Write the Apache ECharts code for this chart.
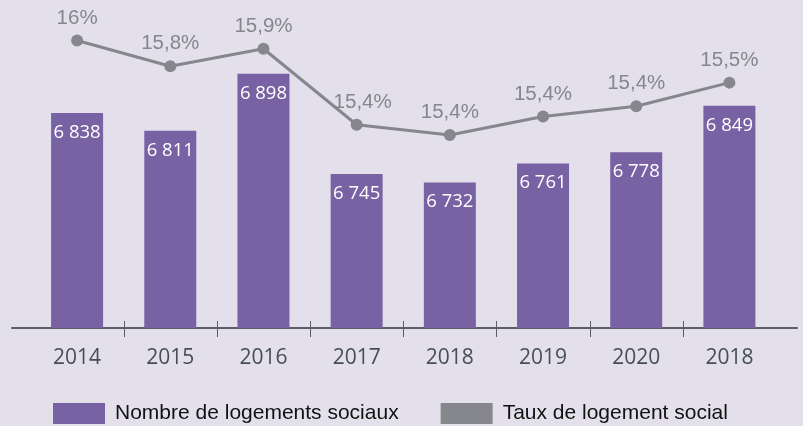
<!DOCTYPE html>
<html><head><meta charset="utf-8">
<script src="https://cdn.jsdelivr.net/npm/echarts@6/dist/echarts.min.js"></script>
<style>html,body{margin:0;padding:0;background:#e3e0ec}#c{width:803px;height:426px}</style>
</head><body><div id="c"></div>
<script>
const categories = ['2014','2015','2016','2017','2018','2019','2020','2018'];
const logements = [6838, 6811, 6898, 6745, 6732, 6761, 6778, 6849];
const logementLabels = ['6 838','6 811','6 898','6 745','6 732','6 761','6 778','6 849'];
const taux = [16.0, 15.75, 15.92, 15.18, 15.08, 15.26, 15.36, 15.59];
const tauxLabels = ['16%','15,8%','15,9%','15,4%','15,4%','15,4%','15,4%','15,5%'];
const seriesNames = ['Nombre de logements sociaux','Taux de logement social'];

const chart = echarts.init(document.getElementById('c'), null, {renderer:'canvas'});
const axisColor = '#5a6068';
chart.setOption({
  backgroundColor: '#e3e0ec',
  animation: false,
  grid: [
    {left: 30.5, right: 27, top: 20, bottom: 98},
    {left: 12, right: 6, top: 20, bottom: 98},
    {left: 124, right: 120, top: 20, bottom: 105}
  ],
  legend: {
    left: 48, top: 398, icon: 'rect', itemWidth: 52, itemHeight: 21, itemGap: 42,
    textStyle: {fontFamily: 'Liberation Sans', fontSize: 21, color: '#111', padding: [0,0,0,5]},
    data: seriesNames
  },
  xAxis: [
    {type: 'category', gridIndex: 0, data: categories,
     axisLine: {show: false}, axisTick: {show: false},
     axisLabel: {fontFamily: 'Open Sans', fontSize: 21, color: '#474f56', margin: 20}},
    {type: 'value', gridIndex: 1, min: 0, max: 1,
     axisLine: {show: true, lineStyle: {color: axisColor, width: 2}},
     axisTick: {show: false}, axisLabel: {show: false}, splitLine: {show: false}},
    {type: 'value', gridIndex: 2, min: 1, max: 7, interval: 1,
     axisLine: {show: false},
     axisTick: {show: true, length: 16, lineStyle: {color: axisColor, width: 1}},
     axisLabel: {show: false}, splitLine: {show: false}}
  ],
  yAxis: [
    {type: 'value', gridIndex: 0, min: 6510, max: 6980, show: false},
    {type: 'value', gridIndex: 0, min: 13.2, max: 16.2, show: false},
    {type: 'value', gridIndex: 1, show: false},
    {type: 'value', gridIndex: 2, show: false}
  ],
  series: [
    {name: seriesNames[0], type: 'bar', xAxisIndex: 0, yAxisIndex: 0, barWidth: 52,
     itemStyle: {color: '#7862a3'},
     data: logements,
     label: {show: true, position: 'insideTop', distance: 10, color: '#fff',
       fontFamily: 'Open Sans', fontSize: 18.5,
       formatter: p => logementLabels[p.dataIndex]}},
    {name: seriesNames[1], type: 'line', xAxisIndex: 0, yAxisIndex: 1,
     symbol: 'circle', symbolSize: 12,
     itemStyle: {color: '#85878c'}, lineStyle: {color: '#85878c', width: 3},
     data: taux.map((v, i) => i === 3 ? {value: v, label: {offset: [6, 0]}} : v),
     label: {show: true, position: 'top', distance: 6, color: '#85878c',
       fontFamily: 'Liberation Sans', fontSize: 20.5,
       formatter: p => tauxLabels[p.dataIndex]}}
  ]
});
</script></body></html>
